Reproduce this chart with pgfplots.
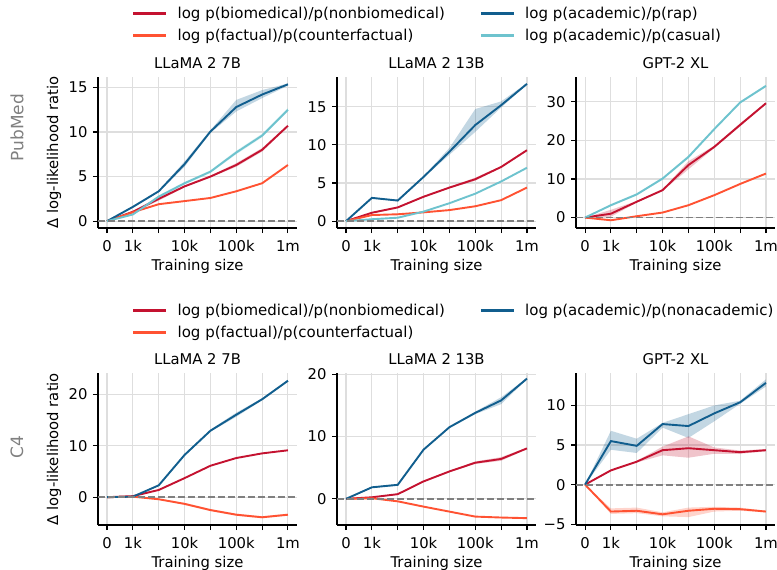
\documentclass[border=0pt]{standalone}
\usepackage{pgfplots}
\pgfplotsset{compat=1.18}
\usepackage{fontspec}
\setmainfont{DejaVu Sans}
\newcommand{\tf}{\fontsize{14.8bp}{17bp}\selectfont}
\newcommand{\lf}{\fontsize{15bp}{17bp}\selectfont}
\newcommand{\rf}{\fontsize{17bp}{20bp}\selectfont}
\newcommand{\lA}[1]{\makebox[312bp][l]{\hspace*{10bp}#1}}
\newcommand{\lB}[1]{\hspace*{10bp}#1}
\definecolor{cred}{HTML}{C41230}
\definecolor{corange}{HTML}{FF5232}
\definecolor{cblue}{HTML}{115E8E}
\definecolor{ccyan}{HTML}{6EC3CE}
\pgfplotsset{
  panel/.style={
    scale only axis, width=199bp, height=151bp,
    xmin=-0.35, xmax=7.35,
    xtick={0,...,7}, xticklabels={0,1k,,10k,,100k,,1m},
    axis x line*=bottom, axis y line*=left,
    axis line style={-, line width=1.1bp, black},
    tick align=outside, major tick length=5bp,
    tick style={line width=1.1bp, black},
    grid=major, major grid style={line width=1.1bp, color=black!13},
    tick label style={font=\tf},
    xticklabel style={yshift=-4bp},
    yticklabel style={xshift=-2bp},
    /pgf/number format/assume math mode=true,
    title style={at={(axis description cs:0.5,1)}, anchor=base, yshift=3bp, font=\tf},
    xlabel={Training size},
    xlabel style={at={(axis description cs:0.5,0)}, anchor=base, yshift=-42bp, font=\tf},
    ylabel style={at={(axis description cs:-0.201,0.5)}, anchor=base, rotate=0, font=\tf},
    every axis plot/.append style={line width=1.9bp},
    legend image code/.code={\draw[#1, line width=2.6bp] (0bp,0bp) -- (33bp,0bp);},
    legend cell align=left,
    legend style={draw=none, fill=none, inner sep=0pt, outer sep=0pt, font=\lf,
      column sep=0pt, row sep=9bp, nodes={inner sep=0pt},
      legend columns=2},
  },
  band/.style={draw=none, fill=#1, fill opacity=0.25, forget plot},
  zero/.style={gray, line width=1.8bp, dash pattern=on 7bp off 3bp, forget plot},
}
\begin{document}
\begin{tikzpicture}
\useasboundingbox (0,0) rectangle (777bp,-570bp);
\node[rotate=90, anchor=west, text=gray, font=\rf] at (17bp,-165bp) {PubMed};
\node[rotate=90, anchor=west, text=gray, font=\rf] at (17bp,-462bp) {C4};

% ---------------- Top left: PubMed, LLaMA 2 7B
\begin{axis}[panel, at={(98bp,-228bp)}, anchor=south west,
  ymin=-0.77, ymax=16.17, ytick={0,5,10,15},
  title={LLaMA 2 7B}, ylabel={Δ log-likelihood ratio},
  legend style={at={(axis description cs:0.171,1.464)}, anchor=north west}]
\addlegendimage{cred}\addlegendentry{\lA{log p(biomedical)/p(nonbiomedical)}}
\addlegendimage{cblue}\addlegendentry{\lB{log p(academic)/p(rap)}}
\addlegendimage{corange}\addlegendentry{\lA{log p(factual)/p(counterfactual)}}
\addlegendimage{ccyan}\addlegendentry{\lB{log p(academic)/p(casual)}}
\addplot[band=cblue] coordinates {(0,0)(1,1.7)(2,3.45)(3,6.7)(4,10.2)(5,13.6)(6,14.7)(7,15.45)(7,15.2)(6,13.8)(5,12.3)(4,9.9)(3,6.1)(2,3.25)(1,1.5)(0,0)};
\addplot[band=ccyan] coordinates {(0,0)(1,0.85)(2,2.9)(3,4.4)(4,5.7)(5,7.9)(6,9.8)(7,12.7)(7,12.3)(6,9.4)(5,7.5)(4,5.4)(3,4.1)(2,2.6)(1,0.65)(0,0)};
\addplot[band=cred] coordinates {(0,0)(1,1.15)(2,2.7)(3,4.0)(4,5.1)(5,6.5)(6,8.2)(7,10.8)(7,10.6)(6,7.8)(5,6.1)(4,4.9)(3,3.8)(2,2.3)(1,0.95)(0,0)};
\addplot[cred, forget plot] coordinates {(0,0)(1,1.05)(2,2.5)(3,3.9)(4,5.0)(5,6.3)(6,8.0)(7,10.7)};
\addplot[corange, forget plot] coordinates {(0,0)(1,1.0)(2,1.9)(3,2.25)(4,2.6)(5,3.35)(6,4.25)(7,6.3)};
\addplot[cblue, forget plot] coordinates {(0,0)(1,1.6)(2,3.35)(3,6.4)(4,10.05)(5,12.8)(6,14.2)(7,15.35)};
\addplot[ccyan, forget plot] coordinates {(0,0)(1,0.75)(2,2.75)(3,4.25)(4,5.55)(5,7.7)(6,9.6)(7,12.5)};
\addplot[zero] coordinates {(-0.35,0)(7.35,0)};
\end{axis}

% ---------------- Top middle: PubMed, LLaMA 2 13B
\begin{axis}[panel, at={(337bp,-228bp)}, anchor=south west,
  ymin=-0.9, ymax=18.9, ytick={0,5,10,15}, title={LLaMA 2 13B}]
\addplot[band=cblue] coordinates {(0,0)(1,3.15)(2,2.8)(3,5.9)(4,9.6)(5,14.7)(6,15.7)(7,18.1)(7,17.9)(6,14.9)(5,11.7)(4,8.7)(3,5.7)(2,2.6)(1,2.95)(0,0)};
\addplot[band=cred] coordinates {(0,0)(1,1.2)(2,1.9)(3,3.3)(4,4.5)(5,5.7)(6,7.2)(7,9.4)(7,9.2)(6,7.0)(5,5.3)(4,4.3)(3,3.1)(2,1.7)(1,1.0)(0,0)};
\addplot[cred] coordinates {(0,0)(1,1.1)(2,1.8)(3,3.2)(4,4.4)(5,5.5)(6,7.1)(7,9.3)};
\addplot[corange] coordinates {(0,0)(1,0.8)(2,0.9)(3,1.15)(4,1.45)(5,1.95)(6,2.75)(7,4.4)};
\addplot[cblue] coordinates {(0,0)(1,3.05)(2,2.7)(3,5.8)(4,9.1)(5,12.6)(6,15.2)(7,18.0)};
\addplot[ccyan] coordinates {(0,0)(1,0.25)(2,0.45)(3,1.25)(4,2.35)(5,3.6)(6,5.2)(7,7.0)};
\addplot[zero] coordinates {(-0.35,0)(7.35,0)};
\end{axis}

% ---------------- Top right: PubMed, GPT-2 XL
\begin{axis}[panel, at={(576bp,-228bp)}, anchor=south west,
  ymin=-2.7, ymax=36.4, ytick={0,10,20,30}, title={GPT-2 XL}]
\addplot[band=cred] coordinates {(0,0)(1,2.0)(2,4.3)(3,7.3)(4,14.6)(5,18.6)(6,24.4)(7,29.8)(7,29.4)(6,23.6)(5,18.0)(4,12.5)(3,6.9)(2,3.9)(1,0.2)(0,0)};
\addplot[band=ccyan] coordinates {(0,0)(1,3.5)(2,6.3)(3,10.4)(4,16.1)(5,23.2)(6,30.1)(7,34.4)(7,33.8)(6,29.5)(5,22.6)(4,15.3)(3,9.8)(2,5.7)(1,2.9)(0,0)};
\addplot[cred] coordinates {(0,0)(1,1.0)(2,4.1)(3,7.1)(4,13.6)(5,18.3)(6,24.0)(7,29.6)};
\addplot[corange] coordinates {(0,0)(1,-0.7)(2,0.35)(3,1.3)(4,3.2)(5,5.8)(6,8.7)(7,11.4)};
\addplot[ccyan] coordinates {(0,0)(1,3.2)(2,6.0)(3,10.1)(4,15.7)(5,22.9)(6,29.8)(7,34.1)};
\addplot[zero] coordinates {(-0.35,0)(7.35,0)};
\end{axis}

% ---------------- Bottom left: C4, LLaMA 2 7B
\begin{axis}[panel, at={(98bp,-525bp)}, anchor=south west, height=152bp,
  ymin=-5.4, ymax=24.1, ytick={0,10,20},
  title={LLaMA 2 7B}, ylabel={Δ log-likelihood ratio},
  legend style={at={(axis description cs:0.171,1.4546)}, anchor=north west}]
\addlegendimage{cred}\addlegendentry{\lA{log p(biomedical)/p(nonbiomedical)}}
\addlegendimage{cblue}\addlegendentry{\lB{log p(academic)/p(nonacademic)}}
\addlegendimage{corange}\addlegendentry{\lA{log p(factual)/p(counterfactual)}}
\addplot[band=cblue] coordinates {(0,0)(1,0.1)(2,2.4)(3,8.4)(4,13.1)(5,16.4)(6,19.2)(7,22.8)(7,22.4)(6,18.8)(5,15.6)(4,12.7)(3,8.0)(2,2.2)(1,0.1)(0,0)};
\addplot[band=corange] coordinates {(0,0)(1,0.2)(2,-0.3)(3,-1.1)(4,-2.3)(5,-3.2)(6,-3.7)(7,-3.2)(7,-3.6)(6,-4.1)(5,-3.6)(4,-2.7)(3,-1.5)(2,-0.5)(1,0.0)(0,0)};
\addplot[cred, forget plot] coordinates {(0,0)(1,0.2)(2,1.4)(3,3.7)(4,6.1)(5,7.6)(6,8.5)(7,9.1)};
\addplot[corange, forget plot] coordinates {(0,0)(1,0.1)(2,-0.4)(3,-1.3)(4,-2.5)(5,-3.4)(6,-3.9)(7,-3.4)};
\addplot[cblue, forget plot] coordinates {(0,0)(1,0.1)(2,2.3)(3,8.2)(4,12.9)(5,16.0)(6,19.0)(7,22.6)};
\addplot[zero] coordinates {(-0.35,0)(7.35,0)};
\end{axis}

% ---------------- Bottom middle: C4, LLaMA 2 13B
\begin{axis}[panel, at={(337bp,-525bp)}, anchor=south west, height=152bp,
  ymin=-4.2, ymax=20.2, ytick={0,10,20}, title={LLaMA 2 13B}]
\addplot[band=cblue] coordinates {(0,0)(1,1.95)(2,2.4)(3,8.0)(4,11.6)(5,14.0)(6,16.3)(7,19.4)(7,19.2)(6,15.2)(5,13.6)(4,11.4)(3,7.8)(2,2.1)(1,1.75)(0,0)};
\addplot[band=cred] coordinates {(0,0)(1,0.3)(2,0.85)(3,2.9)(4,4.5)(5,6.0)(6,6.7)(7,8.2)(7,8.0)(6,6.1)(5,5.6)(4,4.3)(3,2.7)(2,0.65)(1,0.2)(0,0)};
\addplot[cred] coordinates {(0,0)(1,0.25)(2,0.75)(3,2.8)(4,4.4)(5,5.8)(6,6.4)(7,8.1)};
\addplot[corange] coordinates {(0,0)(1,0.1)(2,-0.4)(3,-1.25)(4,-2.05)(5,-2.85)(6,-3.0)(7,-3.1)};
\addplot[cblue] coordinates {(0,0)(1,1.85)(2,2.25)(3,7.9)(4,11.5)(5,13.8)(6,15.8)(7,19.3)};
\addplot[zero] coordinates {(-0.35,0)(7.35,0)};
\end{axis}

% ---------------- Bottom right: C4, GPT-2 XL
\begin{axis}[panel, at={(576bp,-525bp)}, anchor=south west, height=152bp,
  ymin=-5.1, ymax=14.1, ytick={-5,0,5,10}, yticklabels={−5,0,5,10}, title={GPT-2 XL}]
\addplot[band=cblue] coordinates {(0,0)(1,6.8)(2,5.8)(3,7.8)(4,8.9)(5,10.0)(6,10.6)(7,13.3)(7,12.4)(6,10.2)(5,8.0)(4,5.9)(3,7.2)(2,4.0)(1,4.4)(0,0)};
\addplot[band=cred] coordinates {(0,0)(1,1.9)(2,3.0)(3,4.8)(4,6.1)(5,4.7)(6,4.3)(7,4.5)(7,4.2)(6,3.9)(5,3.9)(4,3.4)(3,3.7)(2,2.8)(1,1.7)(0,0)};
\addplot[band=corange] coordinates {(0,0)(1,-3.0)(2,-2.9)(3,-3.5)(4,-2.9)(5,-2.8)(6,-2.9)(7,-3.3)(7,-3.5)(6,-3.3)(5,-3.4)(4,-4.1)(3,-4.0)(2,-3.6)(1,-3.7)(0,0)};
\addplot[cred] coordinates {(0,0)(1,1.8)(2,2.9)(3,4.35)(4,4.6)(5,4.35)(6,4.1)(7,4.35)};
\addplot[corange] coordinates {(0,0)(1,-3.4)(2,-3.3)(3,-3.75)(4,-3.3)(5,-3.05)(6,-3.1)(7,-3.4)};
\addplot[cblue] coordinates {(0,0)(1,5.5)(2,4.9)(3,7.65)(4,7.4)(5,9.0)(6,10.4)(7,12.85)};
\addplot[zero] coordinates {(-0.35,0)(7.35,0)};
\end{axis}
\end{tikzpicture}
\end{document}
